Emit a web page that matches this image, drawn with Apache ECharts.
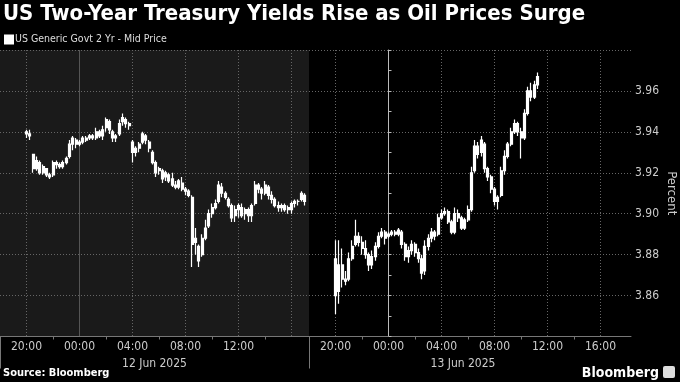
<!DOCTYPE html>
<html><head><meta charset="utf-8">
<script src="https://cdn.jsdelivr.net/npm/echarts@6/dist/echarts.min.js"></script>
<style>html,body{margin:0;padding:0;background:#000;}#c{width:680px;height:382px;}</style>
</head><body><div id="c"></div>
<script>
const chartTitle = 'US Two-Year Treasury Yields Rise as Oil Prices Surge';
const seriesName = 'US Generic Govt 2 Yr - Mid Price';
const sourceText = 'Source: Bloomberg';
const brandText = 'Bloomberg';
const yAxisName = 'Percent';
const leftDate = '12 Jun 2025';
const rightDate = '13 Jun 2025';
// hours relative to midnight of the panel's date; 15-minute bars
const barStepHours = 0.25;
const leftStartHour = -4;   // 20:00, 11 Jun
const rightStartHour = -4;  // 20:00, 12 Jun
const labelHoursLeft = [-4, 0, 4, 8, 12];
const labelHoursRight = [-4, 0, 4, 8, 12, 16];
const tickHours = [-2, 2, 6, 10, 14];
const gridHours = [-4, 4, 8, 12, 16];
const midnightHours = [0];
const sessionStart = [-6];
const yTicks = [3.86, 3.88, 3.90, 3.92, 3.94, 3.96];

// [open, close, low, high]
const leftBars = [
[3.940,3.939,3.937,3.941],[3.939,3.938,3.936,3.941],[3.929,3.922,3.920,3.929],[3.922,3.926,3.921,3.928],
[3.925,3.920,3.919,3.926],[3.920,3.923,3.919,3.924],[3.922,3.919,3.918,3.922],[3.919,3.918,3.917,3.920],
[3.919,3.925,3.918,3.926],[3.925,3.924,3.922,3.926],[3.924,3.923,3.922,3.925],[3.923,3.925,3.922,3.926],
[3.925,3.927,3.924,3.928],[3.928,3.934,3.927,3.936],[3.934,3.937,3.931,3.938],[3.936,3.934,3.932,3.937],
[3.934,3.935,3.933,3.936],[3.935,3.937,3.934,3.938],[3.937,3.936,3.935,3.938],[3.937,3.938,3.936,3.939],
[3.938,3.937,3.936,3.939],[3.937,3.940,3.936,3.942],[3.940,3.938,3.937,3.941],[3.938,3.941,3.936,3.943],
[3.942,3.946,3.940,3.947],[3.945,3.941,3.939,3.946],[3.940,3.937,3.935,3.941],[3.937,3.938,3.935,3.939],
[3.939,3.944,3.938,3.946],[3.945,3.947,3.943,3.949],[3.946,3.944,3.942,3.947],[3.944,3.943,3.941,3.945],
[3.935,3.930,3.925,3.936],[3.930,3.932,3.928,3.933],[3.932,3.934,3.930,3.935],[3.935,3.939,3.934,3.940],
[3.938,3.936,3.934,3.939],[3.935,3.932,3.930,3.936],[3.930,3.925,3.924,3.931],[3.925,3.920,3.918,3.926],
[3.921,3.922,3.919,3.923],[3.921,3.917,3.915,3.922],[3.918,3.920,3.916,3.921],[3.919,3.916,3.915,3.920],
[3.917,3.914,3.913,3.920],[3.914,3.913,3.912,3.916],[3.913,3.916,3.912,3.917],[3.915,3.912,3.911,3.918],
[3.912,3.911,3.909,3.913],[3.911,3.909,3.908,3.912],[3.908,3.885,3.874,3.909],[3.886,3.888,3.880,3.893],
[3.884,3.877,3.874,3.885],[3.880,3.888,3.879,3.890],[3.888,3.893,3.887,3.897],[3.894,3.900,3.893,3.902],
[3.900,3.903,3.898,3.905],[3.903,3.905,3.902,3.907],[3.906,3.914,3.905,3.916],[3.913,3.910,3.908,3.915],
[3.910,3.908,3.907,3.911],[3.907,3.904,3.903,3.908],[3.904,3.898,3.896,3.905],[3.899,3.902,3.896,3.904],
[3.902,3.904,3.898,3.905],[3.903,3.899,3.898,3.905],[3.900,3.902,3.897,3.903],[3.902,3.899,3.896,3.903],
[3.899,3.904,3.896,3.905],[3.905,3.914,3.904,3.916],[3.914,3.912,3.910,3.915],[3.912,3.910,3.907,3.913],
[3.910,3.914,3.909,3.916],[3.913,3.909,3.907,3.914],[3.909,3.907,3.905,3.911],[3.907,3.904,3.903,3.908],
[3.904,3.903,3.901,3.906],[3.903,3.904,3.901,3.905],[3.904,3.902,3.901,3.905],[3.902,3.903,3.900,3.904],
[3.902,3.905,3.900,3.906],[3.905,3.906,3.903,3.907],[3.906,3.906,3.904,3.907],[3.907,3.910,3.906,3.911],
[3.909,3.906,3.904,3.910]
];
const rightBars = [
[3.878,3.860,3.851,3.887],[3.862,3.875,3.856,3.887],[3.875,3.868,3.864,3.883],[3.868,3.867,3.865,3.872],
[3.868,3.878,3.867,3.881],[3.878,3.884,3.877,3.887],[3.885,3.889,3.884,3.897],[3.889,3.886,3.884,3.891],
[3.886,3.883,3.880,3.889],[3.883,3.880,3.878,3.887],[3.880,3.875,3.872,3.881],[3.875,3.879,3.873,3.882],
[3.879,3.884,3.877,3.886],[3.884,3.889,3.883,3.891],[3.889,3.891,3.888,3.893],[3.891,3.888,3.885,3.892],
[3.889,3.890,3.888,3.891],[3.890,3.891,3.889,3.892],[3.891,3.890,3.889,3.892],[3.890,3.892,3.889,3.893],
[3.891,3.885,3.883,3.892],[3.885,3.879,3.877,3.886],[3.879,3.882,3.876,3.884],[3.882,3.885,3.880,3.887],
[3.885,3.881,3.879,3.886],[3.881,3.878,3.876,3.883],[3.878,3.871,3.868,3.880],[3.872,3.884,3.870,3.887],
[3.884,3.888,3.882,3.890],[3.888,3.891,3.886,3.893],[3.891,3.889,3.887,3.892],[3.890,3.898,3.889,3.900],
[3.898,3.900,3.897,3.902],[3.900,3.901,3.899,3.903],[3.901,3.896,3.895,3.902],[3.896,3.891,3.890,3.897],
[3.891,3.900,3.890,3.903],[3.900,3.898,3.896,3.902],[3.898,3.893,3.892,3.899],[3.893,3.897,3.892,3.898],
[3.897,3.902,3.896,3.904],[3.902,3.920,3.901,3.923],[3.921,3.933,3.920,3.936],[3.933,3.929,3.927,3.935],
[3.930,3.936,3.928,3.938],[3.934,3.922,3.920,3.935],[3.922,3.918,3.916,3.923],[3.918,3.912,3.910,3.919],
[3.912,3.906,3.904,3.913],[3.906,3.908,3.902,3.909],[3.909,3.921,3.908,3.923],[3.921,3.928,3.919,3.931],
[3.928,3.934,3.927,3.935],[3.934,3.940,3.933,3.942],[3.940,3.944,3.939,3.946],[3.944,3.940,3.938,3.945],
[3.940,3.937,3.927,3.942],[3.937,3.949,3.936,3.951],[3.949,3.960,3.948,3.962],[3.960,3.957,3.955,3.964],
[3.957,3.963,3.956,3.965],[3.963,3.967,3.961,3.969]
];

const FONT = "'DejaVu Sans Condensed','DejaVu Sans',sans-serif";
const toSeries = (bars, start) => bars.map((b, i) => [start + i * barStepHours].concat(b));
const hourLabel = v => { const h = ((Math.round(v) % 24) + 24) % 24; return (h < 10 ? '0' : '') + h + ':00'; };

const leftMin = -6, leftMax = 17.32, rightMin = -6, rightMax = 18.3;
const yMin = 3.84, yMax = 3.98;
const dotted = { show: true, lineStyle: { color: '#666', type: [1, 2], width: 1 } };

function xAxesFor(gridIndex, min, max, labelHours, dateName, namePad) {
  return [
    { gridIndex, type: 'value', min, max, position: 'bottom',
      axisLine: { show: true, onZero: false, lineStyle: { color: '#777', width: 1 } },
      axisTick: { show: true, customValues: tickHours, length: 3, lineStyle: { color: '#777' } },
      axisLabel: { show: true, customValues: labelHours, formatter: hourLabel, color: '#ccc', fontSize: 12, fontFamily: FONT, margin: 4 },
      splitLine: { show: false },
      name: dateName, nameLocation: 'middle', nameGap: 16,
      nameTextStyle: { color: '#ccc', fontSize: 12, fontFamily: FONT, padding: namePad } },
    { gridIndex, type: 'value', min, max, position: 'top',
      axisLine: { show: false }, axisLabel: { show: false },
      axisTick: { show: false, customValues: gridHours }, splitLine: dotted },
    { gridIndex, type: 'value', min, max, position: 'top',
      axisLine: { show: false }, axisLabel: { show: false },
      axisTick: { show: false, customValues: midnightHours },
      splitLine: { show: true, lineStyle: { color: '#555', type: 'solid', width: 1 } } },
    { gridIndex, type: 'value', min, max, position: 'bottom',
      axisLine: { show: false }, axisLabel: { show: false },
      axisTick: { show: true, customValues: sessionStart, length: 32, lineStyle: { color: '#777' } },
      splitLine: { show: false } }
  ];
}

const chart = echarts.init(document.getElementById('c'), null, { renderer: 'canvas' });
chart.setOption({
  backgroundColor: '#000',
  animation: false,
  textStyle: { fontFamily: FONT },
  title: [
    { text: chartTitle, left: 3, top: 3, padding: 0,
      textStyle: { color: '#fff', fontSize: 22, fontWeight: 'bold', fontFamily: FONT } },
    { text: sourceText, left: 3, bottom: 3, padding: 0,
      textStyle: { color: '#fff', fontSize: 11, fontWeight: 'bold', fontFamily: FONT } },
    { text: brandText, right: 21, bottom: 2, padding: 0,
      textStyle: { color: '#fff', fontSize: 14, fontWeight: 'bold', fontFamily: FONT } }
  ],
  graphic: [
    { type: 'rect', right: 5, bottom: 4, shape: { width: 12, height: 12, r: 2 }, style: { fill: '#ddd' } }
  ],
  legend: {
    data: [seriesName], left: 4, top: 34, padding: 0, icon: 'rect', itemWidth: 8, itemHeight: 8, itemGap: 3,
    selectedMode: false, textStyle: { color: '#ddd', fontSize: 10.5, fontFamily: FONT, padding: [0, 0, 0, -3] },
    itemStyle: { color: '#fff' }
  },
  grid: [
    { left: 0, top: 50, width: 309, bottom: 45.5, show: true, backgroundColor: '#1a1a1a', borderWidth: 0 },
    { left: 309, top: 50, width: 322, bottom: 45.5, show: false }
  ],
  xAxis: xAxesFor(0, leftMin, leftMax, labelHoursLeft, leftDate, [0, 0, 0, 0])
    .concat(xAxesFor(1, rightMin, rightMax, labelHoursRight, rightDate, [0, 14, 0, 0])),
  yAxis: [
    { gridIndex: 0, type: 'value', min: yMin, max: yMax, interval: 0.02, position: 'right',
      axisLine: { show: true, lineStyle: { color: '#555', type: [3, 3] } },
      axisTick: { show: false }, axisLabel: { show: false }, splitLine: dotted },
    { gridIndex: 1, type: 'value', min: yMin, max: yMax, interval: 0.02, position: 'right',
      axisLine: { show: true, lineStyle: { color: '#bbb' } },
      axisTick: { show: true, length: 3, lineStyle: { color: '#bbb' } },
      minorTick: { show: true, splitNumber: 2, length: 3, lineStyle: { color: '#bbb' } },
      axisLabel: { color: '#ccc', fontSize: 12, fontFamily: FONT, margin: 4,
        formatter: v => yTicks.some(t => Math.abs(t - v) < 1e-6) ? v.toFixed(2) : '' },
      splitLine: dotted,
      name: yAxisName, nameLocation: 'middle', nameRotate: -90, nameGap: 34,
      nameTextStyle: { color: '#ccc', fontSize: 13, fontFamily: FONT } }
  ],
  series: [
    { name: seriesName, type: 'candlestick', xAxisIndex: 0, yAxisIndex: 0,
      data: toSeries(leftBars, leftStartHour), encode: { x: 0, y: [1, 2, 3, 4] },
      barWidth: 2.5, itemStyle: { color: '#fff', color0: '#fff', borderColor: '#fff', borderColor0: '#fff', borderWidth: 1.2 } },
    { name: seriesName, type: 'candlestick', xAxisIndex: 4, yAxisIndex: 1,
      data: toSeries(rightBars, rightStartHour), encode: { x: 0, y: [1, 2, 3, 4] },
      barWidth: 2.5, itemStyle: { color: '#fff', color0: '#fff', borderColor: '#fff', borderColor0: '#fff', borderWidth: 1.2 } }
  ]
});
</script>
</body></html>
